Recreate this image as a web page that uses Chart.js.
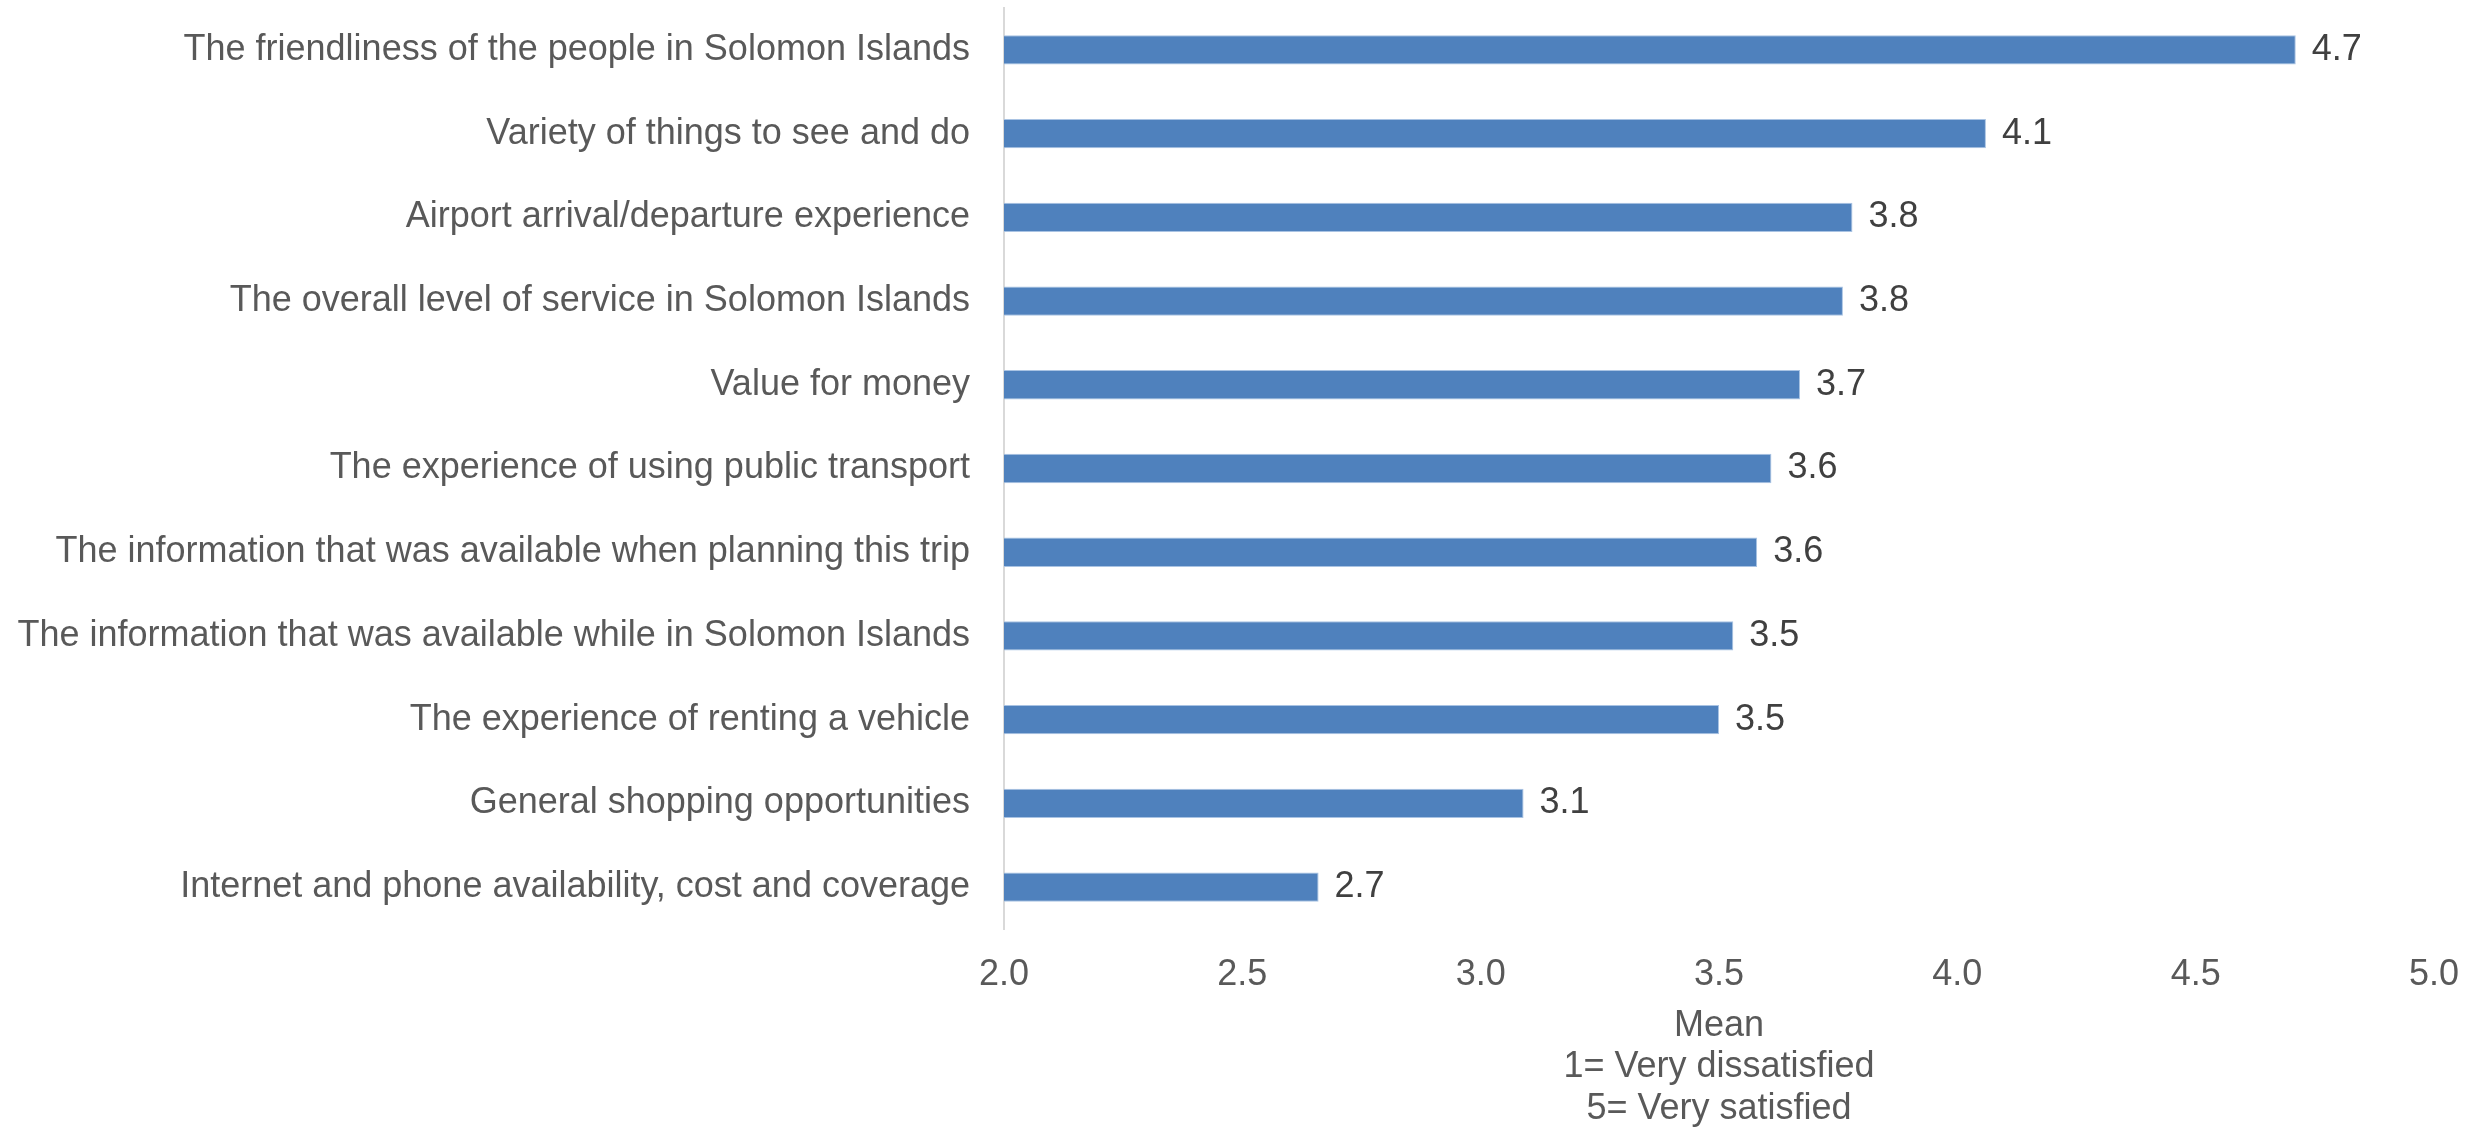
<!DOCTYPE html>
<html>
<head>
<meta charset="utf-8">
<title>Satisfaction with aspects of the visit</title>
<script src="https://cdn.jsdelivr.net/npm/chart.js@4.4.1/dist/chart.umd.min.js"></script>
<style>
    html, body { margin: 0; padding: 0; background: #ffffff; }
    #wrap { width: 2486px; height: 1128px; position: relative; }
</style>
</head>
<body>
<div id="wrap"><canvas id="meanChart"></canvas></div>
<script>
/* --------------- Categories  --------------------- */
const aspects = [
    "The friendliness of the people in Solomon Islands",
    "Variety of things to see and do",
    "Airport arrival/departure experience",
    "The overall level of service in Solomon Islands",
    "Value for money",
    "The experience of using public transport",
    "The information that was available when planning this trip",
    "The information that was available while in Solomon Islands",
    "The experience of renting a vehicle",
    "General shopping opportunities",
    "Internet and phone availability, cost and coverage"
];

/* --------------- Mean scores (1-5)  --------------------- */
const meanScores = [4.71, 4.06, 3.78, 3.76, 3.67, 3.61, 3.58, 3.53, 3.50, 3.09, 2.66];

/* --------------- Axis  --------------------- */
const axisMin = 2;
const axisMax = 5;
const axisStep = 0.5;
const axisTitle = ["Mean", "1= Very dissatisfied", "5= Very satisfied"];

const barBlue = "#4F81BD";
const greyText = "#595959";

Chart.defaults.font.family = "'Liberation Sans', Arial, sans-serif";
Chart.defaults.font.size = 36;
Chart.defaults.color = greyText;

/* --------------- Value labels at the bar ends  --------------------- */
const valueLabels = {
    id: "valueLabels",
    afterDatasetsDraw(chart) {
        const ctx = chart.ctx;
        const meta = chart.getDatasetMeta(0);
        ctx.save();
        ctx.font = "36px 'Liberation Sans', Arial, sans-serif";
        ctx.fillStyle = "#404040";
        ctx.textAlign = "left";
        ctx.textBaseline = "middle";
        meta.data.forEach((bar, i) => {
            const v = chart.data.datasets[0].data[i];
            ctx.fillText(v.toFixed(1), bar.x + 16, bar.y);
        });
        ctx.restore();
    }
};

/* --------------- Chart  --------------------- */
let meanChart = new Chart(document.getElementById("meanChart"), {
    type: "bar",
    plugins: [valueLabels],
    data: {
        labels: aspects,
        datasets: [
            {
                data: meanScores,
                backgroundColor: barBlue,
                borderColor: "#A9C3E3",
                borderWidth: 1,
                barPercentage: 0.35,
                categoryPercentage: 1
            }
        ]
    },
    options: {
        indexAxis: "y",
        responsive: true,
        maintainAspectRatio: false,
        devicePixelRatio: 1,
        animation: false,
        layout: { padding: { top: 8, right: 52, bottom: 0, left: 0 } },
        plugins: {
            legend: { display: false },
            tooltip: { enabled: false }
        },
        scales: {
            x: {
                min: axisMin,
                max: axisMax,
                grid: { display: false, drawTicks: false },
                border: { display: false },
                ticks: {
                    stepSize: axisStep,
                    padding: 24,
                    color: greyText,
                    callback: (value) => Number(value).toFixed(1)
                },
                title: {
                    display: true,
                    text: axisTitle,
                    color: greyText,
                    font: { size: 36, lineHeight: 1.16 },
                    padding: { top: 0, bottom: -2 }
                },
                afterFit: (axis) => { axis.height = 199; }
            },
            y: {
                grid: { display: false, drawTicks: false },
                border: { display: true, color: "#D9D9D9", width: 2 },
                ticks: {
                    padding: 34,
                    color: greyText,
                    autoSkip: false
                },
                afterFit: (axis) => {
                    // fixed label column; drop the extra top/bottom room the tick padding asks for
                    axis.width = 1004;
                    axis.paddingTop = 0;
                    axis.paddingBottom = 0;
                }
            }
        }
    }
});
</script>
</body>
</html>
